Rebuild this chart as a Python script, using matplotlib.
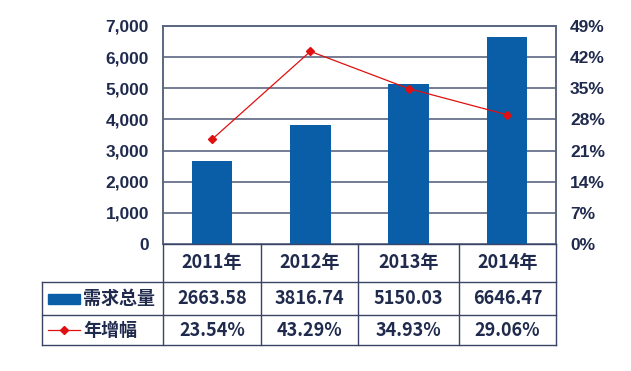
import matplotlib
matplotlib.use("Agg")
import matplotlib.pyplot as plt
from matplotlib.lines import Line2D
from matplotlib.patches import Rectangle

plt.rcParams['font.family'] = ['Liberation Sans', 'Noto Sans CJK SC', 'DejaVu Sans']

years = ["2011年", "2012年", "2013年", "2014年"]
demand = [2663.58, 3816.74, 5150.03, 6646.47]
growth = [23.54, 43.29, 34.93, 29.06]
left_ticks = [0, 1000, 2000, 3000, 4000, 5000, 6000, 7000]
right_ticks = [0, 7, 14, 21, 28, 35, 42, 49]
series_names = ["需求总量", "年增幅"]

W, H = 631, 371
fig = plt.figure(figsize=(W / 100, H / 100), dpi=100)

def fx(px):
    return px / W

def fy(py):
    return 1 - py / H

x0, x1, ytop, ybot = 163, 556, 26, 244
ax = fig.add_axes([fx(x0), fy(ybot), fx(x1) - fx(x0), fy(ytop) - fy(ybot)])
ax2 = ax.twinx()

navy = "#1f2a4d"
blue = "#0a5ea8"
red = "#e01010"
gridc = "#5b6680"

xs = list(range(len(years)))
ax.bar(xs, demand, width=0.41, color=blue, zorder=3)
ax.set_xlim(-0.5, len(years) - 0.5)
ax.set_ylim(0, 7000)
ax.set_yticks(left_ticks)
ax.set_yticklabels([f"{v:,}" for v in left_ticks])
ax.yaxis.grid(True, color=gridc, linewidth=1.2, zorder=0)
ax.set_xticks([])
ax.tick_params(axis='y', length=0, pad=10, labelsize=12.5, labelcolor=navy)
for t in ax.get_yticklabels():
    t.set_fontweight('bold')

ax2.plot(xs, growth, color=red, linewidth=0.9, marker='D', markersize=4.5,
         markerfacecolor=red, markeredgecolor=red, zorder=4)
ax2.set_ylim(0, 49)
ax2.set_yticks(right_ticks)
ax2.set_yticklabels([f"{v}%" for v in right_ticks])
ax2.tick_params(axis='y', length=0, pad=10, labelsize=12.5, labelcolor=navy)
for t in ax2.get_yticklabels():
    t.set_fontweight('bold')

for a in (ax, ax2):
    for s in a.spines.values():
        s.set_color(gridc)
        s.set_linewidth(1.2)
    a.spines['bottom'].set_visible(False)

# table
col_edges = [163, 261, 358, 459, 556]
row_edges = [244, 282, 315, 345]
tab_left = 42
lc = "#3a4566"
lw = 1.0

def hline(y, xa, xb):
    fig.add_artist(Line2D([fx(xa), fx(xb)], [fy(y), fy(y)], color=lc, linewidth=lw))

def vline(x, ya, yb):
    fig.add_artist(Line2D([fx(x), fx(x)], [fy(ya), fy(yb)], color=lc, linewidth=lw))

hline(244, 163, 556)
for y in row_edges[1:]:
    hline(y, tab_left, 556)
for x in col_edges:
    vline(x, 244, 345)
vline(tab_left, 282, 345)

tfont = dict(fontsize=13, fontweight='bold', color=navy,
             family=['Noto Sans CJK SC', 'DejaVu Sans'], ha='center', va='center')
for i, yr in enumerate(years):
    cx = (col_edges[i] + col_edges[i + 1]) / 2
    fig.text(fx(cx), fy((row_edges[0] + row_edges[1]) / 2), yr, **tfont)
    fig.text(fx(cx), fy((row_edges[1] + row_edges[2]) / 2), f"{demand[i]:.2f}", **tfont)
    fig.text(fx(cx), fy((row_edges[2] + row_edges[3]) / 2), f"{growth[i]:.2f}%", **tfont)

# legend cells
r1c = (row_edges[1] + row_edges[2]) / 2
r2c = (row_edges[2] + row_edges[3]) / 2
fig.add_artist(Rectangle((fx(48), fy(r1c + 5)), fx(32), fy(r1c - 5) - fy(r1c + 5),
                         color=blue, transform=fig.transFigure))
fig.add_artist(Line2D([fx(48), fx(80)], [fy(r2c), fy(r2c)], color=red, linewidth=0.9,
                      marker=None))
fig.add_artist(Line2D([fx(64)], [fy(r2c)], color=red, marker='D', markersize=4.5))
lfont = dict(tfont)
lfont['ha'] = 'left'
fig.text(fx(83), fy(r1c), series_names[0], **lfont)
fig.text(fx(83), fy(r2c), series_names[1], **lfont)

fig.savefig("out.png", dpi=100)
